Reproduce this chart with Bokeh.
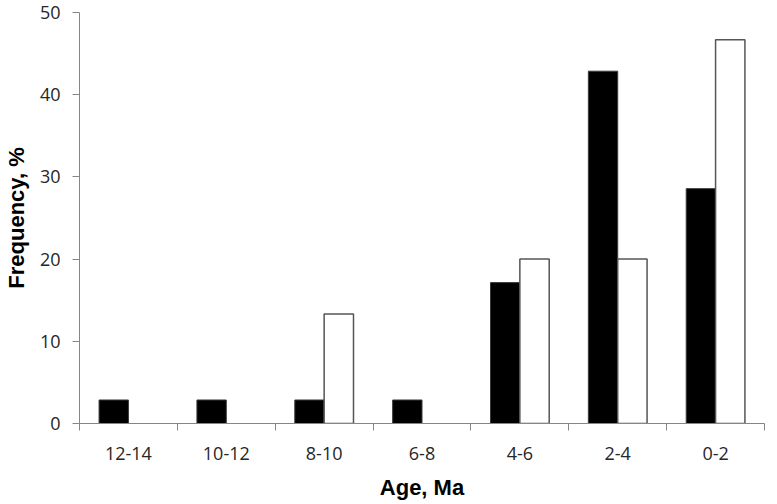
from bokeh.plotting import figure
from bokeh.models import FixedTicker, ColumnDataSource
from bokeh.embed import file_html
from bokeh.resources import INLINE

categories = ["12-14", "10-12", "8-10", "6-8", "4-6", "2-4", "0-2"]
black_vals = [2.86, 2.86, 2.86, 2.86, 17.14, 42.86, 28.57]
white_vals = [0, 0, 13.33, 0, 20.0, 20.0, 46.67]
y_ticks = [0, 10, 20, 30, 40, 50]

n = len(categories)
centers = [i + 0.5 for i in range(n)]
bounds = [float(i) for i in range(n + 1)]
bw = 0.3

src = ColumnDataSource(dict(
    x=[c - bw / 2 for c in centers],
    t=black_vals,
))
wsrc = ColumnDataSource(dict(
    x=[centers[i] + bw / 2 for i in range(n) if white_vals[i] > 0],
    t=[v for v in white_vals if v > 0],
))

p = figure(width=767, height=502, x_range=(0, n), y_range=(0, 50),
           output_backend="svg", toolbar_location=None,
           min_border_left=69, min_border_right=3, min_border_top=12, min_border_bottom=60)
p.outline_line_color = None
p.grid.visible = False
p.background_fill_color = "white"
p.border_fill_color = "white"

p.vbar(x="x", top="t", width=bw, source=src, fill_color="black",
       line_color="#3a3a3a", line_width=1)
p.vbar(x="x", top="t", width=bw, source=wsrc, fill_color="white",
       line_color="#555555", line_width=1.5)

# x axis
p.xaxis.ticker = FixedTicker(ticks=centers, minor_ticks=bounds)
p.xaxis.major_label_overrides = {c: lab for c, lab in zip(centers, categories)}
p.xaxis.major_tick_out = 0
p.xaxis.major_tick_in = 0
p.xaxis.minor_tick_out = 7
p.xaxis.minor_tick_in = 0
p.xaxis.minor_tick_line_color = "#868686"
p.xaxis.axis_line_color = "#868686"
p.xaxis.major_label_standoff = 16
p.xaxis.major_label_text_font = "Open Sans"
p.xaxis.major_label_text_font_size = "18px"
p.xaxis.major_label_text_color = "#262626"
p.xaxis.axis_label = "Age, Ma"
p.xaxis.axis_label_text_font = "Liberation Sans"
p.xaxis.axis_label_text_font_style = "bold"
p.xaxis.axis_label_text_font_size = "22px"
p.xaxis.axis_label_text_color = "black"
p.xaxis.axis_label_standoff = 12

# y axis
p.yaxis.ticker = FixedTicker(ticks=y_ticks, minor_ticks=[])
p.yaxis.major_tick_out = 7
p.yaxis.major_tick_in = 0
p.yaxis.major_tick_line_color = "#868686"
p.yaxis.axis_line_color = "#868686"
p.yaxis.minor_tick_line_color = None
p.yaxis.major_label_standoff = 12
p.yaxis.major_label_text_font = "Open Sans"
p.yaxis.major_label_text_font_size = "18px"
p.yaxis.major_label_text_color = "#262626"
p.yaxis.axis_label = "Frequency, %"
p.yaxis.axis_label_text_font = "Liberation Sans"
p.yaxis.axis_label_text_font_style = "bold"
p.yaxis.axis_label_text_font_size = "22px"
p.yaxis.axis_label_text_color = "black"
p.yaxis.axis_label_standoff = 8

open("out.html", "w").write(file_html(p, INLINE))
